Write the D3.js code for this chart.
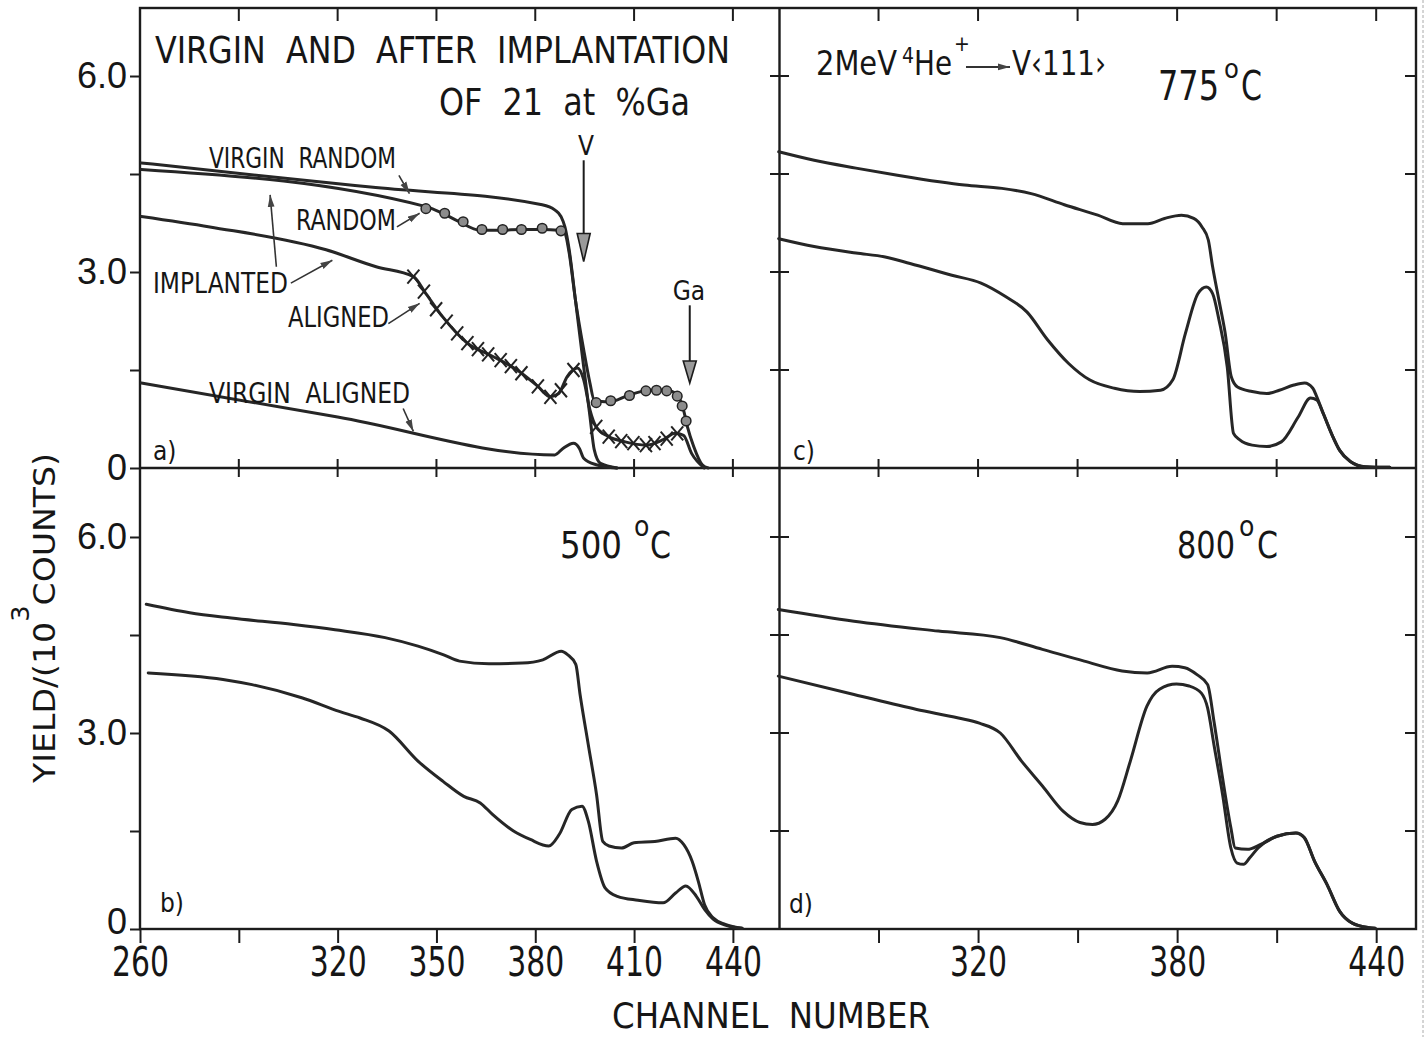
<!DOCTYPE html>
<html><head><meta charset="utf-8">
<script src="https://cdn.jsdelivr.net/npm/d3@7"></script>
<style>
html,body{margin:0;padding:0;background:#fff;}
svg{display:block;}
text{font-family:"Liberation Sans Narrow","DejaVu Sans Condensed","Arial Narrow",sans-serif;fill:#161616;white-space:pre;}
</style></head><body>
<svg id="chart" width="1426" height="1037"></svg>
<script>
// ---------------- data ----------------
const xTickValuesLeft  = [260, 290, 320, 350, 380, 410, 440];
const xTickValuesRight = [290, 320, 350, 380, 410, 440];
const xTickLabelsLeft  = {260:"260", 320:"320", 350:"350", 380:"380", 410:"410", 440:"440"};
const xTickLabelsRight = {320:"320", 380:"380", 440:"440"};
const yTickValues = [0, 1.5, 3, 4.5, 6];
const yTickLabels = {0:"0", 3:"3.0", 6:"6.0"};

// panel a) virgin and after implantation
const aVirginRandom = [[260.4,4.67],[293.8,4.49],[330.0,4.30],[382.1,4.03],[385.9,3.95],[387.8,3.85],[389.0,3.69],[390.3,3.34],[392.2,2.57],[394.7,1.55],[396.6,0.79],[397.9,0.28],[399.8,0.07],[404.8,0.0]];
const aImplRandom = [[260.4,4.57],[346.8,4.00],[351.8,3.90],[356.9,3.77],[363.2,3.64],[369.5,3.64],[375.8,3.65],[382.1,3.65],[387.1,3.64],[389.0,3.59],[390.3,3.29],[392.2,2.57],[394.7,1.81],[396.6,1.30],[397.9,1.04],[402.3,1.01],[408.6,1.12],[414.9,1.19],[419.9,1.19],[423.1,1.12],[425.0,0.89],[426.2,0.63],[428.1,0.33],[430.7,0.05],[432.5,0.0]];
const aImplAligned = [[260.4,3.85],[281.2,3.69],[316.5,3.34],[331.7,3.08],[343.0,2.93],[346.8,2.67],[351.8,2.32],[359.4,1.91],[367.0,1.71],[374.5,1.50],[380.8,1.25],[384.6,1.09],[387.1,1.14],[389.7,1.40],[392.8,1.53],[394.7,1.35],[396.6,0.89],[398.5,0.63],[402.3,0.48],[407.3,0.40],[413.6,0.35],[418.7,0.43],[422.5,0.53],[425.0,0.50],[427.5,0.22],[431.3,0.0]];
const aVirginAligned = [[260.4,1.30],[320.0,0.78],[385.9,0.20],[388.4,0.30],[391.6,0.38],[393.4,0.30],[394.7,0.15],[398.5,0.05],[404.8,0.0]];
const aRandomDots = [[346.8,3.97],[352.5,3.90],[358.1,3.77],[363.8,3.65],[370.1,3.65],[375.8,3.65],[382.1,3.67],[387.8,3.63],[398.5,1.00],[402.9,1.03],[408.6,1.11],[413.6,1.18],[416.8,1.19],[419.9,1.18],[423.1,1.10],[424.6,0.95],[425.8,0.72]];
const aAlignedCrosses = [[343.0,2.93],[346.2,2.70],[349.9,2.43],[353.1,2.24],[356.3,2.06],[359.4,1.91],[362.6,1.82],[365.7,1.74],[369.5,1.65],[372.6,1.56],[375.8,1.45],[380.8,1.25],[384.6,1.09],[387.8,1.19],[391.6,1.50],[398.5,0.63],[402.3,0.48],[406.1,0.41],[409.8,0.38],[413.6,0.35],[416.2,0.38],[419.9,0.45],[423.1,0.53]];

// panel b) 500 C
const bRandom = [[261.9,4.97],[275.1,4.84],[287.7,4.76],[306.6,4.66],[319.2,4.58],[334.4,4.46],[344.4,4.33],[352.0,4.20],[357.0,4.10],[365.9,4.06],[376.0,4.07],[382.3,4.12],[387.9,4.25],[389.8,4.20],[392.3,4.05],[393.6,3.59],[396.1,2.82],[398.6,2.06],[400.5,1.34],[402.4,1.27],[406.2,1.24],[410.0,1.32],[416.3,1.34],[422.6,1.39],[425.1,1.29],[427.6,1.04],[429.5,0.73],[431.4,0.37],[434.0,0.17],[437.7,0.07],[442.8,0.01]];
const bAligned = [[262.5,3.92],[285.2,3.82],[294.0,3.74],[309.1,3.54],[320.5,3.33],[326.8,3.23],[335.6,3.03],[344.4,2.57],[352.0,2.26],[358.3,2.03],[363.3,1.93],[367.1,1.75],[373.4,1.50],[378.5,1.37],[384.1,1.27],[387.3,1.45],[391.1,1.83],[394.2,1.88],[396.1,1.65],[398.6,1.04],[401.2,0.63],[404.9,0.50],[411.2,0.44],[418.8,0.40],[422.6,0.55],[425.7,0.66],[428.9,0.50],[431.4,0.30],[434.0,0.15],[437.7,0.06],[442.8,0.01]];

// panel c) 775 C
const cRandom = [[259.9,4.84],[270.6,4.71],[283.2,4.59],[295.7,4.48],[308.3,4.38],[315.9,4.33],[327.2,4.28],[336.0,4.20],[346.0,4.03],[356.1,3.87],[363.6,3.74],[371.2,3.74],[376.2,3.82],[381.3,3.87],[385.0,3.82],[387.5,3.69],[389.4,3.49],[390.7,3.08],[392.6,2.57],[394.5,2.06],[396.3,1.40],[398.2,1.24],[402.6,1.17],[407.0,1.14],[410.8,1.19],[415.2,1.27],[418.4,1.30],[420.9,1.22],[422.1,1.09],[424.0,0.84],[426.5,0.53],[429.0,0.27],[432.2,0.10],[436.6,0.02],[444.1,0.01]];
const cAligned = [[259.9,3.51],[270.6,3.39],[283.2,3.29],[292.0,3.23],[299.5,3.13],[312.1,2.95],[320.9,2.83],[328.4,2.62],[334.7,2.39],[341.0,1.96],[347.3,1.60],[353.6,1.35],[361.1,1.22],[368.7,1.17],[375.0,1.19],[378.7,1.35],[382.5,2.06],[386.3,2.67],[388.8,2.77],[390.7,2.67],[392.6,2.27],[395.1,1.55],[397.0,0.53],[398.9,0.43],[402.6,0.35],[407.0,0.33],[411.4,0.40],[416.5,0.78],[420.2,1.07],[422.1,1.04],[424.0,0.84],[426.5,0.53],[429.0,0.27],[432.2,0.10],[436.6,0.02],[444.1,0.01]];

// panel d) 800 C
const dRandom = [[259.8,4.89],[282.6,4.71],[308.0,4.56],[326.7,4.46],[339.4,4.28],[352.0,4.10],[363.4,3.95],[371.0,3.92],[378.5,4.02],[382.3,4.00],[386.1,3.89],[389.2,3.74],[391.1,3.18],[393.7,2.31],[396.2,1.55],[397.5,1.24],[401.2,1.22],[405.0,1.29],[410.1,1.42],[415.8,1.47],[418.3,1.40],[421.4,1.04],[425.2,0.68],[429.0,0.27],[432.8,0.09],[437.9,0.02],[439.7,0.01]];
const dAligned = [[259.8,3.87],[282.6,3.59],[301.5,3.36],[314.1,3.23],[320.4,3.15],[326.7,3.00],[333.1,2.57],[339.4,2.19],[345.7,1.80],[350.7,1.63],[354.5,1.60],[358.3,1.68],[362.1,1.96],[365.9,2.57],[370.9,3.41],[374.7,3.67],[379.8,3.75],[383.6,3.72],[387.3,3.61],[389.2,3.38],[391.1,2.82],[393.7,2.06],[396.2,1.24],[398.1,1.01],[400.0,0.99],[401.9,1.09],[404.4,1.24],[410.1,1.42],[415.8,1.47],[418.3,1.40],[421.4,1.04],[425.2,0.68],[429.0,0.27],[432.8,0.09],[437.9,0.02],[439.7,0.01]];

// ---------------- layout ----------------
const INK = '#1c1c1c';
const svg = d3.select('#chart');
const panels = {
  a:{xr:[140,780], yr:[468,8],   chMax:454.3, yMax:7.041, left:true,  top:true,  series:[aVirginRandom,aImplRandom,aImplAligned,aVirginAligned]},
  c:{xr:[779,1416], yr:[468,8],  chMax:452.0, yMax:7.041, left:false, top:true,  series:[cRandom,cAligned]},
  b:{xr:[140,780], yr:[929,468], chMax:454.3, yMax:7.056, left:true,  top:false, series:[bRandom,bAligned]},
  d:{xr:[779,1416], yr:[929,468],chMax:452.0, yMax:7.056, left:false, top:false, series:[dRandom,dAligned]}
};
for (const k in panels){
  const p = panels[k];
  p.x = d3.scaleLinear().domain([260,p.chMax]).range(p.xr);
  p.y = d3.scaleLinear().domain([0,p.yMax]).range(p.yr);
}

const defs = svg.append('defs');
defs.append('marker').attr('id','ah').attr('viewBox','0 0 12 8').attr('refX',12).attr('refY',4)
  .attr('markerWidth',12).attr('markerHeight',8).attr('markerUnits','userSpaceOnUse').attr('orient','auto')
  .append('path').attr('d','M0,0.6 L12,4 L0,7.4 Z').attr('fill','#444');

// scan edge artifact
svg.append('line').attr('x1',1423).attr('x2',1423).attr('y1',0).attr('y2',1037)
  .attr('stroke','#aaa').attr('stroke-width',1).attr('stroke-dasharray','3,2');

// frames
const gF = svg.append('g').attr('stroke',INK).attr('stroke-width',2.4).attr('fill','none');
gF.append('rect').attr('x',140).attr('y',8).attr('width',1276).attr('height',921);
gF.append('line').attr('x1',779.5).attr('x2',779.5).attr('y1',8).attr('y2',929);
gF.append('line').attr('x1',140).attr('x2',1416).attr('y1',468).attr('y2',468);

// ticks
const gT = svg.append('g').attr('stroke',INK).attr('stroke-width',2);
for (const k in panels){
  const p = panels[k];
  const yTop = p.yr[1], yBot = p.yr[0];
  xTickValuesRight.forEach(v=>{
    const xx = p.x(v);
    if (p.top){
      gT.append('line').attr('x1',xx).attr('x2',xx).attr('y1',yTop).attr('y2',yTop+13);
      gT.append('line').attr('x1',xx).attr('x2',xx).attr('y1',yBot).attr('y2',yBot-9);
    } else {
      gT.append('line').attr('x1',xx).attr('x2',xx).attr('y1',yTop).attr('y2',yTop+9);
    }
  });
  yTickValues.forEach(v=>{
    const yy = p.y(v);
    if (p.left){
      gT.append('line').attr('x1',p.xr[1]).attr('x2',p.xr[1]-10).attr('y1',yy).attr('y2',yy);
    } else {
      gT.append('line').attr('x1',p.xr[0]).attr('x2',p.xr[0]+10).attr('y1',yy).attr('y2',yy);
      gT.append('line').attr('x1',p.xr[1]).attr('x2',p.xr[1]-11).attr('y1',yy).attr('y2',yy);
    }
  });
}

// axes
function styleAxis(g, fam, size, len){
  g.select('.domain').remove();
  g.selectAll('.tick line').attr('stroke',INK).attr('stroke-width',2);
  const tx = g.selectAll('.tick text').attr('fill','#161616').style('font-family',fam).style('font-size',size+'px');
  if (len) tx.filter(function(){ return this.textContent.length>0; })
    .attr('textLength',len).attr('lengthAdjust','spacingAndGlyphs');
}
['a','b'].forEach(k=>{
  const p = panels[k];
  const g = svg.append('g').attr('transform','translate(140,0)')
    .call(d3.axisLeft(p.y).tickValues(yTickValues).tickSize(10).tickPadding(3).tickFormat(v=>yTickLabels[v]||''));
  styleAxis(g,'"Liberation Sans",Arial,sans-serif',36);
  // the lowest label of the lower panel sits slightly above its tick, as in the original
  if (k==='b') g.selectAll('.tick text').filter(d=>d===0).attr('y',-7);
});
{
  const g = svg.append('g').attr('transform','translate(0,929)')
    .call(d3.axisBottom(panels.b.x).tickValues(xTickValuesLeft).tickSize(14).tickPadding(5).tickFormat(v=>xTickLabelsLeft[v]||''));
  styleAxis(g,'"Liberation Sans Narrow","DejaVu Sans Condensed",sans-serif',40,57);
  const g2 = svg.append('g').attr('transform','translate(0,929)')
    .call(d3.axisBottom(panels.d.x).tickValues(xTickValuesRight).tickSize(14).tickPadding(5).tickFormat(v=>xTickLabelsRight[v]||''));
  styleAxis(g2,'"Liberation Sans Narrow","DejaVu Sans Condensed",sans-serif',40,57);
}

// axis titles
svg.append('text').attr('x',771).attr('y',1028).attr('text-anchor','middle')
  .attr('textLength',318).attr('lengthAdjust','spacingAndGlyphs')
  .style('font-size','36px').text('CHANNEL  NUMBER');
{
  const t = svg.append('text').attr('transform','translate(55,618) rotate(-90)').attr('text-anchor','middle')
    .style('font-size','31px').attr('textLength',330).attr('lengthAdjust','spacingAndGlyphs');
  t.append('tspan').text('YIELD/(10');
  t.append('tspan').attr('dy',-26).style('font-size','24px').text('3');
  t.append('tspan').attr('dy',26).text('COUNTS)');
}

// curves
const lineFor = p => d3.line().x(d=>p.x(d[0])).y(d=>p.y(d[1])).curve(d3.curveMonotoneX);
for (const k in panels){
  const p = panels[k];
  const ln = lineFor(p);
  p.series.forEach(s=>{
    svg.append('path').attr('d',ln(s)).attr('fill','none').attr('stroke','#262626')
      .attr('stroke-width',3).attr('stroke-linejoin','round').attr('stroke-linecap','round');
  });
}

// markers panel a
{
  const p = panels.a;
  svg.append('g').selectAll('circle').data(aRandomDots).join('circle')
    .attr('cx',d=>p.x(d[0])).attr('cy',d=>p.y(d[1])).attr('r',4.8)
    .attr('fill','#8c8c8c').attr('stroke','#222').attr('stroke-width',1.5);
  const gx = svg.append('g').attr('stroke','#222').attr('stroke-width',2);
  aAlignedCrosses.forEach(d=>{
    const cx=p.x(d[0]), cy=p.y(d[1]);
    gx.append('line').attr('x1',cx-6).attr('x2',cx+6).attr('y1',cy-7).attr('y2',cy+7);
    gx.append('line').attr('x1',cx-6).attr('x2',cx+6).attr('y1',cy+7).attr('y2',cy-7);
  });
}

// leader arrows panel a
const leadersA = [
  {from:[338.6,4.48], to:[341.8,4.20]},
  {from:[338.0,3.69], to:[344.9,3.90]},
  {from:[301.4,3.08], to:[299.5,4.18]},
  {from:[305.8,2.83], to:[318.4,3.18]},
  {from:[335.4,2.21], to:[344.9,2.52]},
  {from:[339.9,0.91], to:[343.0,0.56]}
];
{
  const p = panels.a;
  leadersA.forEach(l=>{
    svg.append('line').attr('x1',p.x(l.from[0])).attr('y1',p.y(l.from[1]))
      .attr('x2',p.x(l.to[0])).attr('y2',p.y(l.to[1]))
      .attr('stroke','#333').attr('stroke-width',1.6).attr('marker-end','url(#ah)');
  });
  const bigArrows = [{ch:394.7, v0:4.71, v1:3.16, head:28},{ch:426.9, v0:2.49, v1:1.30, head:22}];
  bigArrows.forEach(a=>{
    const xx=p.x(a.ch), y0=p.y(a.v0), y1=p.y(a.v1);
    svg.append('line').attr('x1',xx).attr('x2',xx).attr('y1',y0).attr('y2',y1-a.head+2)
      .attr('stroke',INK).attr('stroke-width',2);
    svg.append('path').attr('d',`M${xx},${y1} L${xx-6.5},${y1-a.head} L${xx+6.5},${y1-a.head} Z`)
      .attr('fill','#9a9a9a').attr('stroke',INK).attr('stroke-width',1.6);
  });
}

// text annotations
const notes = [
  {p:'a', ch:264.55, v:6.199, t:'VIRGIN  AND  AFTER  IMPLANTATION', fs:37, len:575},
  {p:'a', ch:350.77, v:5.403, t:'OF  21  at  %Ga', fs:38, len:251},
  {p:'a', ch:395.4, v:4.79, t:'V', fs:26, anchor:'middle'},
  {p:'a', ch:426.66, v:2.57, t:'Ga', fs:26, anchor:'middle'},
  {p:'a', ch:280.95, v:4.592, t:'VIRGIN  RANDOM', fs:28, len:187},
  {p:'a', ch:307.36, v:3.643, t:'RANDOM', fs:28, len:100},
  {p:'a', ch:263.95, v:2.679, t:'IMPLANTED', fs:28, len:135},
  {p:'a', ch:304.93, v:2.158, t:'ALIGNED', fs:28, len:101},
  {p:'a', ch:280.95, v:0.995, t:'VIRGIN  ALIGNED', fs:28, len:201},
  {p:'a', ch:263.95, v:0.122, t:'a)', fs:26},
  {p:'c', ch:264.22, v:0.122, t:'c)', fs:26},
  {p:'b', ch:266.07, v:0.26, t:'b)', fs:26},
  {p:'d', ch:263.01, v:0.245, t:'d)', fs:26}
];
notes.forEach(n=>{
  const p = panels[n.p];
  const t = svg.append('text').attr('x',p.x(n.ch)).attr('y',p.y(n.v))
    .attr('text-anchor',n.anchor||'start').style('font-size',n.fs+'px').text(n.t);
  if (n.len) t.attr('textLength',n.len).attr('lengthAdjust','spacingAndGlyphs');
});

// temperature labels (number, raised "o", "C")
const temps = [
  {p:'c', ch:374.24, v:5.633, num:'775', fs:40, len:61, oDx:5,  cDx:22, oFs:27},
  {p:'b', ch:387.5,  v:5.679, num:'500', fs:38, len:62, oDx:12, cDx:28, oFs:28},
  {p:'d', ch:379.96, v:5.679, num:'800', fs:38, len:58, oDx:4,  cDx:22, oFs:28}
];
temps.forEach(n=>{
  const p = panels[n.p];
  const x0 = p.x(n.ch), y0 = p.y(n.v);
  svg.append('text').attr('x',x0).attr('y',y0).style('font-size',n.fs+'px')
    .attr('textLength',n.len).attr('lengthAdjust','spacingAndGlyphs').text(n.num);
  svg.append('text').attr('x',x0+n.len+n.oDx).attr('y',y0-22).style('font-size',n.oFs+'px').text('o');
  svg.append('text').attr('x',x0+n.len+n.cDx).attr('y',y0).style('font-size',n.fs+'px')
    .attr('textLength',21).attr('lengthAdjust','spacingAndGlyphs').text('C');
});

// beam label panel c
{
  const p = panels.c;
  const bx = p.x(271.15), by = p.y(6.016);
  svg.append('text').attr('x',bx).attr('y',by).style('font-size','33px')
    .attr('textLength',81).attr('lengthAdjust','spacingAndGlyphs').text('2MeV');
  svg.append('text').attr('x',bx+86).attr('y',by-12).style('font-size','21px').text('4');
  svg.append('text').attr('x',bx+98).attr('y',by).style('font-size','33px')
    .attr('textLength',38).attr('lengthAdjust','spacingAndGlyphs').text('He');
  svg.append('text').attr('x',bx+138).attr('y',by-24).style('font-size','21px').text('+');
  svg.append('line').attr('x1',bx+150).attr('x2',bx+194).attr('y1',by-8).attr('y2',by-8)
    .attr('stroke','#333').attr('stroke-width',2).attr('marker-end','url(#ah)');
  svg.append('text').attr('x',bx+196).attr('y',by).style('font-size','33px')
    .attr('textLength',94).attr('lengthAdjust','spacingAndGlyphs').text('V‹111›');
}
</script>
</body></html>
